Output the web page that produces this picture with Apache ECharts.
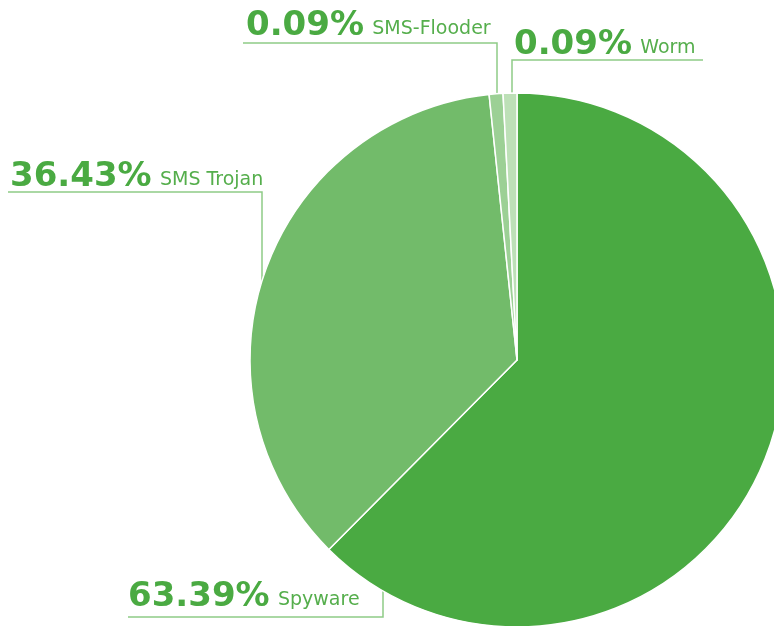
<!DOCTYPE html>
<html><head><meta charset="utf-8">
<script src="https://cdn.jsdelivr.net/npm/echarts@6/dist/echarts.min.js"></script>
<style>html,body{margin:0;padding:0;background:#fff}#c{width:774px;height:626px}</style>
</head><body><div id="c"></div>
<script>
const categories = ['Spyware', 'SMS Trojan', 'SMS-Flooder', 'Worm'];
const shares = [63.39, 36.43, 0.09, 0.09];
const percentLabels = ['63.39%', '36.43%', '0.09%', '0.09%'];

const sliceColors = ['#4aaa42', '#72bb6a', '#9cd095', '#bde0b7'];
const CX = 517, CY = 360, R = 267;
// label placement (layout only): text left x, text baseline, underline y, connector x, underline far end
const labelSpots = [
  { left: 128, base: 606, lineY: 617, joinX: 383, endX: 128 },
  { left: 10,  base: 186, lineY: 192, joinX: 262, endX: 8 },
  { left: 246, base: 35,  lineY: 43,  joinX: 497, endX: 243 },
  { left: 514, base: 54,  lineY: 60,  joinX: 512, endX: 703 }
];

const chart = echarts.init(document.getElementById('c'), null, { renderer: 'canvas' });
const data = categories.map((name, i) => ({
  name, value: shares[i],
  itemStyle: { color: sliceColors[i] }
}));

chart.setOption({
  animation: false,
  series: [{
    type: 'pie',
    center: [CX, CY],
    radius: [0, R],
    startAngle: 90,
    clockwise: true,
    minAngle: 3,
    avoidLabelOverlap: false,
    emphasis: { disabled: true },
    itemStyle: { borderColor: '#ffffff', borderWidth: 1.5 },
    label: {
      show: true,
      position: 'outside',
      formatter: p => '{p|' + percentLabels[p.dataIndex] + '} {n|' + p.name + '}',
      rich: {
        p: { fontFamily: 'DejaVu Sans', fontWeight: 'bold', fontSize: 34, color: '#4aaa42', lineHeight: 40, verticalAlign: 'bottom' },
        n: { fontFamily: 'DejaVu Sans', fontSize: 19, color: '#55ae4c', lineHeight: 40, verticalAlign: 'bottom', padding: [0, 0, 4, 5] }
      }
    },
    labelLine: { show: true, smooth: false, lineStyle: { color: '#8ecb87', width: 1.5 } },
    labelLayout: function (params) {
      const s = labelSpots[params.dataIndex];
      const dx = s.joinX - CX;
      const h = Math.sqrt(Math.max(R * R - dx * dx, 0));
      const edgeY = s.lineY > CY ? CY + h : CY - h;
      return {
        x: s.left, y: s.base + 8, align: 'left', verticalAlign: 'bottom',
        hideOverlap: false,
        labelLinePoints: [[s.joinX, edgeY], [s.joinX, s.lineY], [s.endX, s.lineY]]
      };
    },
    data
  }]
});
</script></body></html>
